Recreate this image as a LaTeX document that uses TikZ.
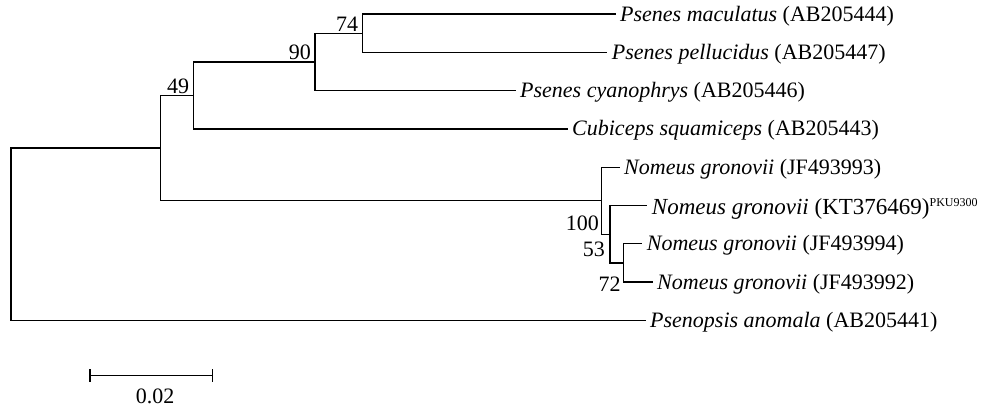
\documentclass[tikz,border=0pt]{standalone}
\usepackage{fontspec}
\setmainfont{Liberation Serif}
\begin{document}
\begin{tikzpicture}[x=1pt,y=-1pt,
  branch/.style={line width=1.3pt, line cap=rect, line join=miter},
  leaf/.style={anchor=base west, inner xsep=5pt, inner ysep=0pt, yshift=-7pt,
               font=\fontsize{22}{26}\selectfont},
  boot/.style={anchor=base east, inner sep=0pt, font=\fontsize{22}{26}\selectfont},
  scalelabel/.style={anchor=base, inner sep=0pt, font=\fontsize{22}{26}\selectfont}]
\useasboundingbox (0,0) rectangle (995,408);

% leaf tips (x = branch end, y = row)
\coordinate (t0) at (615,14);
\coordinate (t1) at (606.7,52.3);
\coordinate (t2) at (515,90.6);
\coordinate (t3) at (567,128.9);
\coordinate (t4) at (619,167.2);
\coordinate (t5) at (646.7,205.5);
\coordinate (t6) at (641.7,243.8);
\coordinate (t7) at (652,282.1);
\coordinate (t8) at (645,320.4);

% internal nodes
\coordinate (n74)  at (362.3,33.15);
\coordinate (n90)  at (315,61.9);
\coordinate (n49)  at (193.7,95.4);
\coordinate (nNG)  at (601.3,200.7);
\coordinate (n53)  at (610,234.2);
\coordinate (n72)  at (623.3,263);
\coordinate (nA)   at (160.3,148.05);
\coordinate (root) at (11,234.2);

% branches
\draw[branch] (t0) -| (n74) |- (t1);
\draw[branch] (n74) -| (n90) |- (t2);
\draw[branch] (n90) -| (n49) |- (t3);
\draw[branch] (n49) -| (nA) |- (nNG);
\draw[branch] (t4) -| (nNG) |- (n53);
\draw[branch] (t5) -| (n53) |- (n72);
\draw[branch] (t6) -| (n72) |- (t7);
\draw[branch] (nA) -| (root) |- (t8);

% taxon labels
\node[leaf] (L0) at (t0) {\textit{Psenes maculatus} (AB205444)};
\node[leaf] (L1) at (t1) {\textit{Psenes pellucidus} (AB205447)};
\node[leaf] (L2) at (t2) {\textit{Psenes cyanophrys} (AB205446)};
\node[leaf] (L3) at (t3) {\textit{Cubiceps squamiceps} (AB205443)};
\node[leaf] (L4) at (t4) {\textit{Nomeus gronovii} (JF493993)};
\node[leaf, yshift=-2pt, font=\fontsize{23}{27}\selectfont] (L5) at (t5)
  {\textit{Nomeus gronovii} (KT376469)\raisebox{8.5pt}{\fontsize{12}{12}\selectfont PKU9300}};
\node[leaf] (L6) at (t6) {\textit{Nomeus gronovii} (JF493994)};
\node[leaf] (L7) at (t7) {\textit{Nomeus gronovii} (JF493992)};
\node[leaf] (L8) at (t8) {\textit{Psenopsis anomala} (AB205441)};

% bootstrap values
\node[boot] (b74)  at ([shift={(-4,-1.5)}]n74) {74};
\node[boot] (b90)  at ([shift={(-4,-2)}]n90) {90};
\node[boot] (b49)  at ([shift={(-4.4,-2.1)}]n49) {49};
\node[boot] (b100) at ([shift={(-2.3,29.3)}]nNG) {100};
\node[boot] (b53)  at ([shift={(-5,22)}]n53) {53};
\node[boot] (b72)  at ([shift={(-2.6,28)}]n72) {72};

% scale bar
\coordinate (s1) at (90,375.7);
\coordinate (s2) at (212.3,375.7);
\draw[branch, line cap=butt] (s1) -- (s2);
\draw[branch, line cap=butt] ([yshift=6.5pt]s1) -- ([yshift=-6.5pt]s1);
\draw[branch, line cap=butt] ([yshift=6.5pt]s2) -- ([yshift=-6.5pt]s2);
\node[scalelabel] (sl) at (155,403.5) {0.02};
\end{tikzpicture}
\end{document}
